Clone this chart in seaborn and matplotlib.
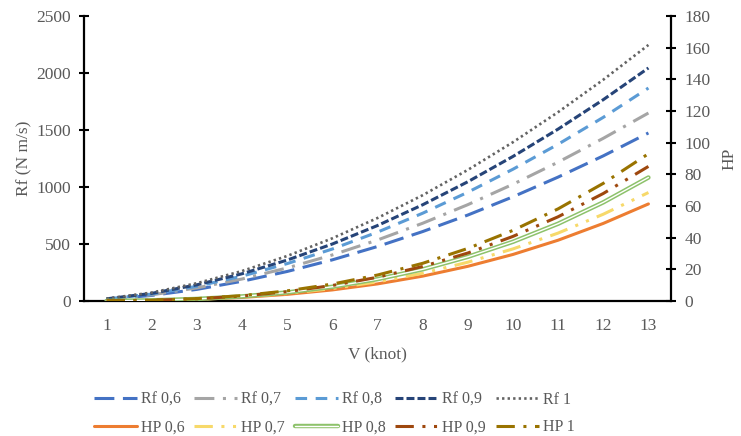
import matplotlib
matplotlib.use("Agg")
import matplotlib.pyplot as plt
import matplotlib.patheffects as pe
from matplotlib.ticker import MultipleLocator, FixedLocator
import seaborn as sns
import numpy as np

# ---------------- data ----------------
V = [1, 2, 3, 4, 5, 6, 7, 8, 9, 10, 11, 12, 13]

rf_06 = [14, 49, 102, 173, 259, 361, 478, 609, 754, 914, 1087, 1273, 1474]
rf_07 = [15, 54, 115, 193, 290, 404, 535, 682, 845, 1024, 1218, 1427, 1649]
rf_08 = [17, 61, 129, 218, 328, 456, 604, 770, 954, 1156, 1375, 1611, 1868]
rf_09 = [19, 67, 142, 239, 359, 500, 662, 844, 1046, 1268, 1508, 1766, 2044]
rf_10 = [21, 74, 156, 263, 395, 550, 728, 928, 1150, 1393, 1657, 1941, 2246]

hp_06 = [0.05, 0.32, 1.0, 2.25, 4.2, 7.0, 10.8, 15.7, 21.9, 29.4, 38.4, 49.0, 61.3]
hp_07 = [0.06, 0.36, 1.1, 2.5, 4.7, 7.9, 12.1, 17.5, 24.5, 32.9, 42.9, 54.8, 68.5]
hp_08 = [0.06, 0.41, 1.3, 2.9, 5.4, 9.0, 13.8, 20.0, 27.9, 37.4, 48.8, 62.3, 78.0]
hp_09 = [0.06, 0.45, 1.4, 3.1, 5.9, 9.8, 15.0, 21.8, 30.3, 40.8, 53.2, 67.9, 85.0]
hp_10 = [0.07, 0.49, 1.5, 3.4, 6.4, 10.7, 16.4, 23.8, 33.2, 44.6, 58.2, 74.3, 93.0]

rf_labels = ["Rf 0,6", "Rf 0,7", "Rf 0,8", "Rf 0,9", "Rf 1"]
hp_labels = ["HP 0,6", "HP 0,7", "HP 0,8", "HP 0,9", "HP 1"]
x_ticklabels = [str(v) for v in V]

# ---------------- style ----------------
sns.set_style("white")
plt.rcParams["font.family"] = ["Liberation Serif", "DejaVu Serif"]
TXT = "#595959"

fig = plt.figure(figsize=(7.41, 4.36), dpi=100)
ax = fig.add_axes([84 / 741, 1 - 301 / 436, (671 - 84) / 741, (301 - 16) / 436])
ax2 = ax.twinx()

LW = 2.2
rf_styles = [
    dict(color="#4472C4", linestyle=(0, (6.5, 2.8))),
    dict(color="#A5A5A5", linestyle=(0, (6.5, 2.8, 1, 2.8))),
    dict(color="#5B9BD5", linestyle=(0, (3.8, 2.8))),
    dict(color="#264478", linestyle=(0, (2.6, 1.0))),
    dict(color="#636363", linestyle=(0, (0.9, 1.2)), lw=1.9),
]
hp_styles = [
    dict(color="#ED7D31", linestyle="-"),
    dict(color="#F7D96A", linestyle=(0, (6, 2.8, 1, 2.8, 1, 2.8))),
    dict(color="#8DC26B", linestyle="-", lw=3.2,
         path_effects=[pe.Normal(), pe.Stroke(linewidth=1.0, foreground="white")]),
    dict(color="#9E480E", linestyle=(0, (6, 2.8, 1, 2.8, 1, 2.8))),
    dict(color="#997300", linestyle=(0, (6, 2.8, 1, 2.8))),
]

rf_series = [rf_06, rf_07, rf_08, rf_09, rf_10]
hp_series = [hp_06, hp_07, hp_08, hp_09, hp_10]

rf_handles, hp_handles = [], []
for vals, lab, st in zip(rf_series, rf_labels, rf_styles):
    st = dict(st)
    lw = st.pop("lw", LW)
    sns.lineplot(x=V, y=vals, ax=ax, lw=lw, label=lab, legend=False, **st)
    rf_handles.append(ax.get_lines()[-1])
for vals, lab, st in zip(hp_series, hp_labels, hp_styles):
    st = dict(st)
    lw = st.pop("lw", LW)
    sns.lineplot(x=V, y=vals, ax=ax2, lw=lw, label=lab, legend=False, **st)
    hp_handles.append(ax2.get_lines()[-1])

# ---------------- axes ----------------
ax.set_xlim(0.5, 13.5)
ax.set_ylim(0, 2500)
ax2.set_ylim(0, 180)
ax.yaxis.set_major_locator(MultipleLocator(500))
ax2.yaxis.set_major_locator(MultipleLocator(20))
ax.xaxis.set_major_locator(FixedLocator(V))
ax.set_xticklabels(x_ticklabels)
ax.xaxis.set_minor_locator(FixedLocator([v + 0.5 for v in [0] + V]))

for a in (ax, ax2):
    for s in a.spines.values():
        s.set_visible(False)
    a.grid(False)
ax.spines["left"].set_visible(True)
ax.spines["bottom"].set_visible(True)
ax2.spines["right"].set_visible(True)
for s in (ax.spines["left"], ax.spines["bottom"], ax2.spines["right"]):
    s.set_color("black")
    s.set_linewidth(1.6)

FS = 12.5
ax.tick_params(axis="x", which="major", length=0, pad=12, labelsize=FS, labelcolor=TXT)
ax.tick_params(axis="x", which="minor", length=7, width=1.5, direction="inout", color="black")
ax.tick_params(axis="y", which="major", length=7, width=1.5, direction="inout", color="black",
               labelsize=FS, labelcolor=TXT, pad=6, left=True)
ax2.tick_params(axis="y", which="major", length=7, width=1.5, direction="inout", color="black",
                labelsize=FS, labelcolor=TXT, pad=6, right=True)

ax.set_xlabel("V (knot)", fontsize=FS, color=TXT, labelpad=9)
ax.set_ylabel("Rf (N m/s)", fontsize=FS, color=TXT, labelpad=3)
ax2.set_ylabel("HP", fontsize=FS, color=TXT, labelpad=8)

# ---------------- legend ----------------
handles, labels = [], []
for h1, h2 in zip(rf_handles, hp_handles):
    handles += [h1, h2]
    labels += [h1.get_label(), h2.get_label()]
leg = fig.legend(handles, labels, ncol=5, loc="upper left",
                 bbox_to_anchor=(94 / 741, 1 - 392 / 436), frameon=False,
                 fontsize=11.5, handlelength=2.7, handletextpad=0.25,
                 columnspacing=0.6, labelspacing=0.7, borderpad=0, borderaxespad=0)
for t in leg.get_texts():
    t.set_color(TXT)

fig.savefig("out.png", dpi=100)
